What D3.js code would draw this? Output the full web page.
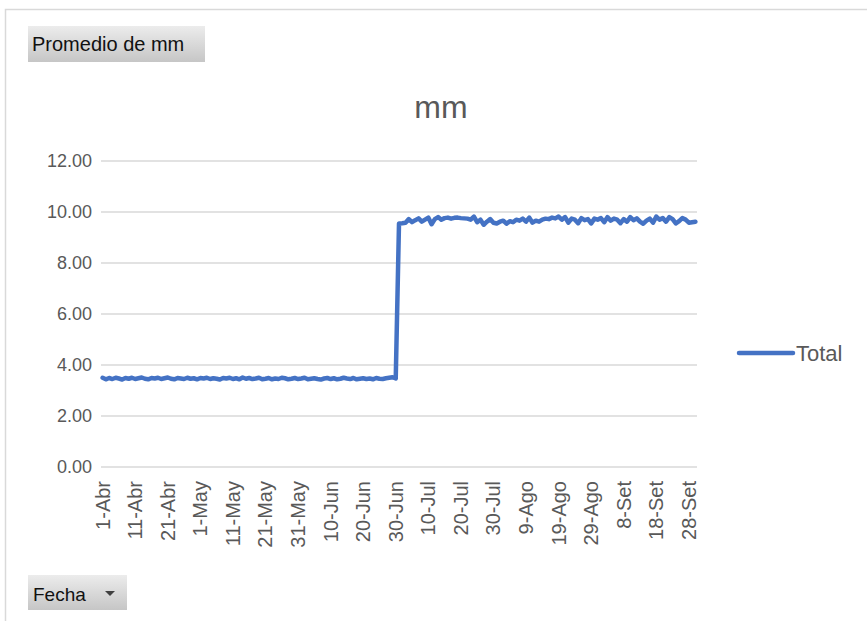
<!DOCTYPE html>
<html>
<head>
<meta charset="utf-8">
<script src="https://cdn.jsdelivr.net/npm/d3@7"></script>
<style>
  body { margin: 0; background: #fff; }
  svg { display: block; font-family: "Liberation Sans", Arial, sans-serif; }
</style>
</head>
<body>
<div id="chart"></div>
<script>
// months shown on the axis (Spanish abbreviations) and their day counts
const months = ["Abr", "May", "Jun", "Jul", "Ago", "Set"];
const monthDays = [30, 31, 30, 31, 31, 30];

// Promedio de mm, 1-Abr .. 30-Jun
const valuesAprJun = [
  3.50,3.44,3.49,3.45,3.50,3.47,3.43,3.49,3.46,3.50,
  3.45,3.48,3.51,3.46,3.44,3.49,3.47,3.50,3.45,3.48,
  3.51,3.46,3.44,3.49,3.47,3.45,3.50,3.46,3.48,3.44,
  3.49,3.47,3.50,3.45,3.48,3.46,3.43,3.49,3.47,3.50,
  3.45,3.48,3.44,3.51,3.46,3.49,3.45,3.47,3.50,3.44,
  3.46,3.49,3.44,3.47,3.45,3.50,3.48,3.44,3.46,3.49,
  3.45,3.47,3.50,3.44,3.46,3.48,3.45,3.43,3.47,3.49,
  3.45,3.48,3.44,3.46,3.50,3.47,3.45,3.49,3.44,3.46,
  3.48,3.45,3.47,3.44,3.49,3.46,3.45,3.48,3.50,3.52,3.47
];

// Promedio de mm, 1-Jul .. 30-Set
const valuesJulSet = [
  9.55,9.56,9.58,9.72,9.60,9.68,9.75,9.62,9.70,9.78,
  9.52,9.72,9.80,9.70,9.76,9.78,9.74,9.77,9.78,9.76,
  9.75,9.74,9.70,9.82,9.60,9.70,9.50,9.62,9.72,9.58,9.55,
  9.62,9.66,9.54,9.64,9.60,9.70,9.66,9.74,9.62,9.78,
  9.58,9.66,9.62,9.70,9.74,9.72,9.78,9.75,9.82,9.70,
  9.80,9.58,9.74,9.70,9.56,9.76,9.68,9.72,9.55,9.74,9.70,
  9.76,9.60,9.80,9.66,9.74,9.70,9.56,9.72,9.62,9.80,
  9.68,9.75,9.62,9.54,9.66,9.74,9.58,9.82,9.70,9.76,
  9.62,9.80,9.72,9.55,9.64,9.76,9.70,9.58,9.60,9.62
];

const tickLabels = ["1-Abr","11-Abr","21-Abr","1-May","11-May","21-May","31-May",
  "10-Jun","20-Jun","30-Jun","10-Jul","20-Jul","30-Jul","9-Ago","19-Ago","29-Ago",
  "8-Set","18-Set","28-Set"];
const yTicks = [0, 2, 4, 6, 8, 10, 12];

// build category labels like "1-Abr"
const categories = [];
months.forEach((m, i) => {
  for (let d = 1; d <= monthDays[i]; d++) categories.push(d + "-" + m);
});
const values = valuesAprJun.concat(valuesJulSet);
const data = categories.map((c, i) => ({ fecha: c, mm: values[i] }));

const width = 867, height = 621;
const margin = { top: 161, right: 170, bottom: 154, left: 101 };
const textColor = "#595959";

const svg = d3.select("#chart").append("svg")
  .attr("width", width)
  .attr("height", height);

// outer frame
svg.append("path")
  .attr("d", "M5.5,621 V9.5 H867")
  .attr("fill", "none")
  .attr("stroke", "#d9d9d9")
  .attr("stroke-width", 1.5);

const x = d3.scaleBand()
  .domain(categories)
  .range([margin.left, width - margin.right])
  .padding(0);

const y = d3.scaleLinear()
  .domain([0, 12])
  .range([height - margin.bottom, margin.top]);

// gridlines
svg.append("g")
  .selectAll("line")
  .data(yTicks)
  .join("line")
  .attr("x1", margin.left)
  .attr("x2", width - margin.right)
  .attr("y1", d => y(d))
  .attr("y2", d => y(d))
  .attr("stroke", "#d9d9d9")
  .attr("stroke-width", 1.3);

// y axis labels
const yAxis = svg.append("g")
  .attr("transform", `translate(${margin.left - 9},0)`)
  .call(d3.axisLeft(y).tickValues(yTicks).tickFormat(d3.format(".2f")).tickSize(0).tickPadding(0));
yAxis.select(".domain").remove();
yAxis.selectAll("text")
  .attr("fill", textColor)
  .attr("font-size", 18)
  .attr("font-family", "Liberation Sans, Arial, sans-serif");

// x axis labels (rotated)
const xAxis = svg.append("g")
  .attr("transform", `translate(0,${height - margin.bottom})`)
  .call(d3.axisBottom(x).tickValues(tickLabels).tickSize(0));
xAxis.select(".domain").remove();
xAxis.selectAll("text")
  .attr("fill", textColor)
  .attr("font-size", 20)
  .attr("font-family", "Liberation Sans, Arial, sans-serif")
  .attr("text-anchor", "end")
  .attr("transform", "rotate(-90)")
  .attr("x", -14)
  .attr("y", 0)
  .attr("dy", "0.35em");

// the line
const line = d3.line()
  .x(d => x(d.fecha) + x.bandwidth() / 2)
  .y(d => y(d.mm));

svg.append("path")
  .datum(data)
  .attr("fill", "none")
  .attr("stroke", "#4472c4")
  .attr("stroke-width", 4.5)
  .attr("stroke-linejoin", "round")
  .attr("stroke-linecap", "round")
  .attr("d", line);

// title
svg.append("text")
  .attr("x", 441)
  .attr("y", 118)
  .attr("text-anchor", "middle")
  .attr("font-size", 32)
  .attr("fill", textColor)
  .text("mm");

// legend
svg.append("line")
  .attr("x1", 739).attr("x2", 793)
  .attr("y1", 353).attr("y2", 353)
  .attr("stroke", "#4472c4")
  .attr("stroke-width", 4.5)
  .attr("stroke-linecap", "round");
svg.append("text")
  .attr("x", 796)
  .attr("y", 361)
  .attr("font-size", 22)
  .attr("fill", textColor)
  .text("Total");

// pivot field buttons
const grad = svg.append("defs").append("linearGradient")
  .attr("id", "btn").attr("x1", 0).attr("x2", 0).attr("y1", 0).attr("y2", 1);
grad.append("stop").attr("offset", "0%").attr("stop-color", "#ececec");
grad.append("stop").attr("offset", "100%").attr("stop-color", "#c6c6c6");

svg.append("rect")
  .attr("x", 28).attr("y", 26).attr("width", 177).attr("height", 36)
  .attr("fill", "url(#btn)");
svg.append("text")
  .attr("x", 32).attr("y", 51)
  .attr("font-size", 20)
  .attr("fill", "#111")
  .text("Promedio de mm");

svg.append("rect")
  .attr("x", 28).attr("y", 575).attr("width", 99).attr("height", 35)
  .attr("fill", "url(#btn)");
svg.append("text")
  .attr("x", 33).attr("y", 601)
  .attr("font-size", 19)
  .attr("fill", "#111")
  .text("Fecha");
svg.append("path")
  .attr("d", "M105,591 h10 l-5,5 z")
  .attr("fill", "#404040");
</script>
</body>
</html>
